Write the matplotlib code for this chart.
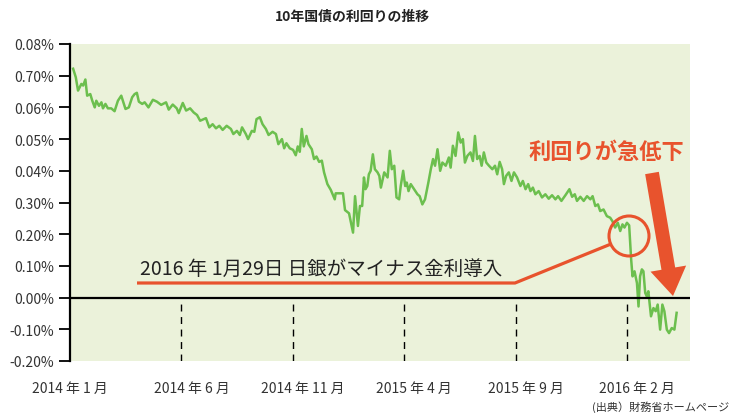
import matplotlib
matplotlib.use("Agg")
import matplotlib.pyplot as plt
from matplotlib.patches import Circle
from matplotlib.transforms import ScaledTranslation

plt.rcParams['font.family'] = ['Noto Sans CJK JP', 'DejaVu Sans']

# months counted from 2014-01, yield in %
months = [0.14, 0.26, 0.36, 0.51, 0.59, 0.69, 0.77, 0.91, 1.0, 1.11, 1.18, 1.3, 1.41, 1.48, 1.59,
          1.7, 1.85, 2.0, 2.15, 2.3, 2.49, 2.64, 2.79, 2.9, 3.0, 3.09, 3.24, 3.35, 3.52, 3.72,
          3.9, 4.09, 4.31, 4.43, 4.61, 4.79, 4.88, 5.06, 5.21, 5.39, 5.55, 5.7, 5.84, 6.0, 6.1,
          6.25, 6.4, 6.55, 6.7, 6.85, 7.03, 7.22, 7.33, 7.49, 7.62, 7.72, 7.89, 7.99, 8.16, 8.27,
          8.37, 8.52, 8.64, 8.79, 8.91, 9.09, 9.24, 9.35, 9.51, 9.61, 9.71, 9.86, 10.01, 10.13,
          10.22, 10.31, 10.4, 10.49, 10.61, 10.7, 10.85, 10.95, 11.06, 11.18, 11.3, 11.4, 11.55,
          11.7, 11.88, 11.92, 12.25, 12.34, 12.52, 12.7, 12.79, 12.92, 13.01, 13.11, 13.19, 13.26,
          13.34, 13.41, 13.49, 13.59, 13.68, 13.8, 13.88, 13.95, 14.1, 14.25, 14.35, 14.44, 14.55,
          14.65, 14.77, 14.84, 14.95, 15.04, 15.11, 15.19, 15.29, 15.44, 15.59, 15.69, 15.81,
          15.93, 16.08, 16.19, 16.29, 16.38, 16.49, 16.61, 16.71, 16.86, 17.0, 17.08, 17.18, 17.3,
          17.42, 17.53, 17.63, 17.72, 17.83, 17.97, 18.08, 18.17, 18.27, 18.38, 18.47, 18.57,
          18.68, 18.8, 18.95, 19.07, 19.17, 19.28, 19.39, 19.47, 19.57, 19.69, 19.81, 19.92, 20.06,
          20.21, 20.32, 20.44, 20.56, 20.66, 20.77, 20.88, 21.03, 21.18, 21.33, 21.48, 21.63,
          21.78, 21.9, 22.05, 22.23, 22.41, 22.53, 22.65, 22.75, 22.9, 23.05, 23.2, 23.35, 23.45,
          23.57, 23.69, 23.79, 23.94, 24.09, 24.24, 24.34, 24.46, 24.58, 24.69, 24.79, 24.88,
          24.99, 25.09, 25.18, 25.24, 25.33, 25.44, 25.51, 25.58, 25.66, 25.73, 25.81, 25.88,
          25.95, 26.07, 26.18, 26.28, 26.37, 26.48, 26.58, 26.67, 26.78, 26.88, 27.0, 27.12, 27.22]
yields = [0.722, 0.695, 0.653, 0.674, 0.669, 0.688, 0.637, 0.642, 0.621, 0.600, 0.621, 0.605,
          0.616, 0.597, 0.611, 0.597, 0.597, 0.588, 0.621, 0.637, 0.595, 0.600, 0.632, 0.642,
          0.646, 0.618, 0.611, 0.616, 0.600, 0.624, 0.618, 0.608, 0.616, 0.593, 0.609, 0.597,
          0.582, 0.614, 0.590, 0.597, 0.584, 0.576, 0.558, 0.563, 0.566, 0.537, 0.547, 0.534,
          0.542, 0.529, 0.542, 0.532, 0.516, 0.526, 0.513, 0.537, 0.516, 0.500, 0.526, 0.523,
          0.563, 0.569, 0.547, 0.532, 0.513, 0.523, 0.516, 0.484, 0.500, 0.471, 0.487, 0.471,
          0.466, 0.449, 0.477, 0.460, 0.532, 0.477, 0.510, 0.484, 0.468, 0.437, 0.445, 0.428,
          0.432, 0.395, 0.358, 0.340, 0.310, 0.329, 0.329, 0.276, 0.266, 0.205, 0.320, 0.226,
          0.289, 0.289, 0.379, 0.342, 0.352, 0.389, 0.400, 0.452, 0.405, 0.395, 0.384, 0.347,
          0.395, 0.379, 0.463, 0.405, 0.416, 0.316, 0.310, 0.352, 0.400, 0.352, 0.363, 0.336,
          0.358, 0.342, 0.326, 0.320, 0.294, 0.310, 0.363, 0.405, 0.437, 0.416, 0.468, 0.400,
          0.426, 0.416, 0.442, 0.410, 0.479, 0.447, 0.521, 0.489, 0.500, 0.426, 0.447, 0.458,
          0.431, 0.510, 0.437, 0.447, 0.416, 0.458, 0.426, 0.416, 0.405, 0.416, 0.389, 0.428,
          0.405, 0.358, 0.384, 0.395, 0.368, 0.395, 0.379, 0.352, 0.368, 0.342, 0.358, 0.336,
          0.347, 0.326, 0.336, 0.316, 0.326, 0.312, 0.323, 0.310, 0.320, 0.305, 0.323, 0.342,
          0.318, 0.326, 0.305, 0.318, 0.305, 0.320, 0.310, 0.320, 0.289, 0.294, 0.273, 0.278,
          0.257, 0.252, 0.241, 0.221, 0.236, 0.210, 0.231, 0.221, 0.236, 0.228, 0.120, 0.067,
          0.083, 0.046, -0.028, 0.067, 0.089, 0.083, 0.015, 0.004, 0.020, -0.059, -0.033, -0.043,
          -0.022, -0.101, -0.022, -0.043, -0.101, -0.112, -0.096, -0.101, -0.048]

ytick_vals = [0.8, 0.7, 0.6, 0.5, 0.4, 0.3, 0.2, 0.1, 0.0, -0.1, -0.2]
ytick_labels = ['0.08%', '0.70%', '0.06%', '0.05%', '0.04%', '0.30%', '0.20%', '0.10%',
                '0.00%', '-0.10%', '-0.20%']
xtick_vals = [0, 5, 10, 15, 20, 25]
xtick_labels = ['2014 年 1 月', '2014 年 6 月', '2014 年 11 月', '2015 年 4 月', '2015 年 9 月',
                '2016 年 2 月']

red = '#e8532d'
fig = plt.figure(figsize=(7.31, 4.14), dpi=100)
ax = fig.add_axes([70 / 731, 52 / 414, 620 / 731, 317 / 414])
ax.set_facecolor('#ebf2da')

ax.plot(months, yields, color='#6cbf4e', lw=1.8, zorder=3)
ax.axhline(0, color='black', lw=1.6, zorder=4)
for m in xtick_vals[1:]:
    ax.plot([m, m], [-0.2, 0], color='black', lw=1, ls=(0, (5, 4)), zorder=2)

ax.set_xlim(0.08, 27.82)
ax.set_ylim(-0.2, 0.8)
ax.set_yticks(ytick_vals)
ax.set_yticklabels(ytick_labels, fontsize=10, color='#333333')
ax.set_xticks(xtick_vals)
ax.set_xticklabels(xtick_labels, fontsize=10, color='#333333')
ax.tick_params(axis='x', length=0, pad=14)
ax.tick_params(axis='y', length=8, width=1.3, direction='out')
for lbl in ax.get_xticklabels()[1:]:
    lbl.set_transform(lbl.get_transform() + ScaledTranslation(0.1, 0, fig.dpi_scale_trans))
for s in ['top', 'right', 'bottom']:
    ax.spines[s].set_visible(False)
ax.spines['left'].set_linewidth(1.6)

fig.text(352 / 731, 1 - 17 / 414, '10年国債の利回りの推移', ha='center', va='center',
         fontsize=10, fontweight='bold', color='#222222')
fig.text(592 / 731, 1 - 407 / 414, '(出典）財務省ホームページ', ha='left', va='center',
         fontsize=8, color='#333333')

# annotation
fig.text(140 / 731, 1 - 269 / 414, '2016 年 1月29日 日銀がマイナス金利導入', ha='left',
         va='center', fontsize=14, color='#222222')
fig.add_artist(plt.Line2D([137 / 731, 515 / 731, 611 / 731],
                          [1 - 284 / 414, 1 - 284 / 414, 1 - 245 / 414],
                          color=red, lw=2.3, solid_capstyle='butt'))
ax.add_patch(Circle((629, 414 - 237), 20, transform=None, fill=False, edgecolor=red,
                    lw=2.2, zorder=5))
fig.text(606 / 731, 1 - 152 / 414, '利回りが急低下', ha='center', va='center',
         fontsize=16, fontweight='bold', color=red)
ax.annotate('', xy=(673, 414 - 297), xycoords='figure pixels',
            xytext=(652, 414 - 174), textcoords='figure pixels',
            arrowprops=dict(arrowstyle='simple,head_length=1.0,head_width=1.3,tail_width=0.5',
                            mutation_scale=20, color=red, lw=0, shrinkA=0, shrinkB=0))

fig.savefig('out.png', dpi=100)
